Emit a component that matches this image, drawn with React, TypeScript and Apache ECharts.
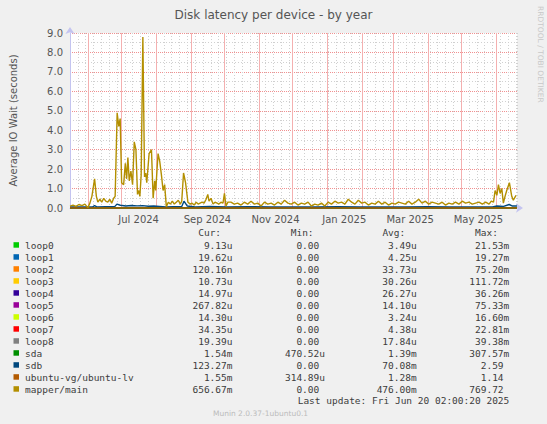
import React, { useEffect, useRef } from 'react';
import * as echarts from 'echarts';

// x values are days since the window start (Munin yearly graph = 400 days ending Jun 20 2025 02:00)
const windowStart = Date.UTC(2024, 4, 16, 2);

const monthStarts = [
  '2024-06-01', '2024-07-01', '2024-08-01', '2024-09-01', '2024-10-01', '2024-11-01', '2024-12-01',
  '2025-01-01', '2025-02-01', '2025-03-01', '2025-04-01', '2025-05-01', '2025-06-01',
];
const monthLabels = ['Jul 2024', 'Sep 2024', 'Nov 2024', 'Jan 2025', 'Mar 2025', 'May 2025'];
const labelMonthRanges = [
  ['2024-07-01', '2024-08-01'],
  ['2024-09-01', '2024-10-01'],
  ['2024-11-01', '2024-12-01'],
  ['2025-01-01', '2025-02-01'],
  ['2025-03-01', '2025-04-01'],
  ['2025-05-01', '2025-06-01'],
];
const yTicks = [0, 1, 2, 3, 4, 5, 6, 7, 8, 9];

const deviceNames = [
  'loop0', 'loop1', 'loop2', 'loop3', 'loop4', 'loop5', 'loop6', 'loop7', 'loop8',
  'sda', 'sdb', 'ubuntu-vg/ubuntu-lv', 'mapper/main',
];
const deviceColors = [
  '#00cc00', '#0066b3', '#ff8000', '#ffcc00', '#330099', '#990099', '#ccff00', '#ff0000', '#808080',
  '#008f00', '#00487d', '#b35a00', '#b38f00',
];
const curValues = ['9.13u', '19.62u', '120.16n', '10.73u', '14.97u', '267.82u', '14.30u', '34.35u', '19.39u', '1.54m', '123.27m', '1.55m', '656.67m'];
const minValues = ['0.00', '0.00', '0.00', '0.00', '0.00', '0.00', '0.00', '0.00', '0.00', '470.52u', '0.00', '314.89u', '0.00'];
const avgValues = ['3.49u', '4.25u', '33.73u', '30.26u', '26.27u', '14.10u', '3.24u', '4.38u', '17.84u', '1.39m', '70.08m', '1.28m', '476.00m'];
const maxValues = ['21.53m', '19.27m', '75.20m', '111.72m', '36.26m', '75.33m', '16.60m', '22.81m', '39.38m', '307.57m', '2.59', '1.14', '769.72'];

// near-zero devices, coarse samples
const smallDays = [0, 50, 100, 150, 200, 250, 300, 350, 400];
const loop0Wait = [0.000003, 0.000004, 0.000003, 0.000002, 0.000004, 0.000003, 0.000004, 0.000003, 0.000009];
const loop1Wait = [0.000004, 0.000005, 0.000004, 0.000003, 0.000004, 0.000005, 0.000004, 0.000004, 0.00002];
const loop2Wait = [0.00003, 0.00004, 0.00003, 0.00003, 0.00004, 0.00003, 0.00003, 0.00004, 0.0000001];
const loop3Wait = [0.00003, 0.00003, 0.00002, 0.00003, 0.00004, 0.00003, 0.00003, 0.00003, 0.00001];
const loop4Wait = [0.00002, 0.00003, 0.00002, 0.00003, 0.00003, 0.00002, 0.00003, 0.00002, 0.000015];
const loop5Wait = [0.00001, 0.00002, 0.00001, 0.00001, 0.00002, 0.00001, 0.00001, 0.00002, 0.00027];
const loop6Wait = [0.000003, 0.000003, 0.000004, 0.000003, 0.000002, 0.000003, 0.000004, 0.000003, 0.000014];
const loop7Wait = [0.000004, 0.000005, 0.000004, 0.000004, 0.000005, 0.000004, 0.000004, 0.000005, 0.000034];
const loop8Wait = [0.00002, 0.00002, 0.00001, 0.00002, 0.00002, 0.00001, 0.00002, 0.00002, 0.000019];
const sdaWait = [0.0013, 0.0015, 0.0014, 0.0013, 0.0014, 0.0014, 0.0013, 0.0014, 0.0015];
const ubuntuLvWait = [0.0012, 0.0013, 0.0013, 0.0012, 0.0013, 0.0013, 0.0012, 0.0013, 0.0016];

// sdb: [day, seconds]
const sdbWait = [
  [0, 0.05], [10, 0.06], [20, 0.05], [22, 0.12], [24, 0.06], [32, 0.07], [40, 0.07], [42, 0.2], [45, 0.14],
  [50, 0.1], [55, 0.13], [60, 0.11], [65, 0.12], [70, 0.09], [75, 0.1], [80, 0.08], [86, 0.05], [92, 0.07],
  [100, 0.08], [102, 0.35], [105, 0.1], [112, 0.05], [125, 0.08], [140, 0.05], [160, 0.07], [180, 0.05],
  [200, 0.06], [220, 0.05], [240, 0.07], [260, 0.05], [280, 0.06], [300, 0.05], [320, 0.07], [340, 0.05],
  [360, 0.06], [378, 0.06], [382, 0.1], [388, 0.08], [393, 0.18], [396, 0.1], [400, 0.1],
];

// mapper/main: [day, seconds]
const mapperMainWait = [
  [0, 0.1], [2.7, 0.15], [5.3, 0.08], [8, 0.18], [10.7, 0.12], [13.3, 0.2], [16, 0.02], [17.8, 0.25],
  [19.6, 0.6], [22, 1.5], [23.6, 0.6], [24.9, 0.3], [26.7, 0.45], [28.4, 0.3], [30.2, 0.5], [32, 0.35],
  [33.8, 0.3], [35.6, 0.45], [37.3, 0.25], [39.1, 0.5], [40.4, 0.6], [42.2, 4.9], [43.6, 4.2], [44.9, 4.6],
  [46.2, 1.3], [48, 1.2], [49.5, 2.3], [50.7, 1.5], [51.8, 2.6], [53, 1.4], [54.5, 1.9], [56, 1.2],
  [57.5, 3.4], [59, 3.0], [60.4, 0.7], [61.6, 0.9], [62.5, 0.6], [63.7, 1.7], [65.2, 8.8], [66.7, 1.6],
  [67.8, 1.8], [68.7, 1.3], [70.8, 2.8], [72.9, 3.0], [74.4, 0.5], [75.8, 1.4], [76.7, 0.9], [78.8, 2.8],
  [80.3, 2.4], [81.8, 1.7], [83.3, 0.9], [84.7, 1.2], [86.2, 0.07], [88, 0.3], [89.8, 0.2], [91.6, 0.35],
  [93.3, 0.2], [95.1, 0.3], [96.9, 0.4], [98.7, 0.2], [100, 0.35], [101.6, 1.8], [103.4, 1.3], [105.5, 0.3],
  [107.6, 0.2], [109.3, 0.25], [111.1, 0.15], [112.9, 0.3], [114.7, 0.2], [116.4, 0.25], [118.2, 0.3],
  [120, 0.25], [121.8, 0.45], [123.3, 0.7], [124.4, 0.35], [126.2, 0.5], [128, 0.2], [129.8, 0.3],
  [131.6, 0.25], [133.3, 0.2], [135.1, 0.3], [136.9, 0.25], [138.2, 0.75], [139.6, 0.1], [141.3, 0.3],
  [144, 0.3], [147, 0.2], [150, 0.25], [153, 0.15], [156, 0.3], [159, 0.2], [162, 0.35], [165, 0.2],
  [168, 0.25], [171, 0.1], [174, 0.3], [177, 0.2], [180, 0.25], [183, 0.15], [186, 0.3], [189, 0.2],
  [192, 0.4], [195, 0.25], [198, 0.2], [201, 0.3], [204, 0.15], [207, 0.25], [210, 0.2], [213, 0.3],
  [216, 0.1], [219, 0.2], [222, 0.15], [225, 0.25], [228, 0.1], [231, 0.3], [234, 0.2], [237, 0.35],
  [240, 0.25], [243, 0.3], [246, 0.2], [249, 0.45], [252, 0.3], [255, 0.2], [258, 0.4], [261, 0.25],
  [264, 0.3], [267, 0.15], [270, 0.25], [273, 0.2], [276, 0.35], [279, 0.2], [282, 0.3], [285, 0.15],
  [288, 0.25], [291, 0.2], [294, 0.3], [297, 0.25], [300, 0.2], [303, 0.35], [306, 0.2], [309, 0.3],
  [312, 0.45], [315, 0.25], [318, 0.35], [321, 0.2], [324, 0.3], [327, 0.25], [330, 0.2], [333, 0.3],
  [336, 0.15], [339, 0.25], [342, 0.2], [345, 0.3], [348, 0.2], [351, 0.35], [354, 0.25], [357, 0.3],
  [360, 0.2], [363, 0.25], [366, 0.3], [369, 0.2], [372, 0.3], [375, 0.2], [377, 0.35], [379, 0.3],
  [380.4, 0.9], [382, 0.65], [383.4, 1.2], [384.9, 0.75], [386.4, 1.0], [387.8, 0.25], [389.3, 0.6],
  [390.8, 0.9], [393.2, 1.3], [395.3, 0.6], [396.7, 0.4], [399.1, 0.65],
];

const smallSeries = [loop0Wait, loop1Wait, loop2Wait, loop3Wait, loop4Wait, loop5Wait, loop6Wait, loop7Wait, loop8Wait, sdaWait];

const dayOf = (iso: string) => (Date.parse(iso + 'T00:00:00Z') - windowStart) / 86400000;

const App: React.FC = () => {
  const chartRef = useRef<HTMLDivElement>(null);

  useEffect(() => {
    if (!chartRef.current) return;
    const chart = echarts.init(chartRef.current, undefined, { renderer: 'svg' });

    const monthDays = monthStarts.map(dayOf);
    const labelDays = labelMonthRanges.map(([a, b]) => (dayOf(a) + dayOf(b)) / 2);

    const lineData: number[][][] = [];
    smallSeries.forEach((vals) => lineData.push(smallDays.map((d, i) => [d, vals[i]])));
    lineData.push(sdbWait);
    lineData.push(smallDays.map((d, i) => [d, ubuntuLvWait[i]]));
    lineData.push(mapperMainWait);

    const mono = '"DejaVu Sans Mono", monospace';
    const textColor = '#3c3c3c';
    const charW = 5.71;
    const rowTop = 245;
    const rowH = 12;
    const colRight = [232.5, 325, 416.7, 509.3];
    const cols = [curValues, minValues, avgValues, maxValues];
    const headers = ['Cur:', 'Min:', 'Avg:', 'Max:'];

    const txt = (text: string, x: number, y: number, align: string) => ({
      type: 'text',
      x,
      y,
      silent: true,
      style: {
        text,
        fill: textColor,
        fontSize: 9.5,
        fontFamily: mono,
        textAlign: align,
        align,
        textVerticalAlign: 'middle',
        verticalAlign: 'middle',
      },
    });

    const graphics: any[] = [];
    headers.forEach((h, c) => graphics.push(txt(h, colRight[c] - 2 * charW, 232.5, 'right')));
    deviceNames.forEach((name, i) => {
      const y = rowTop + i * rowH;
      graphics.push({ type: 'rect', shape: { x: 13.5, y: y - 2.8, width: 5.5, height: 5.5 }, style: { fill: deviceColors[i] } });
      graphics.push(txt(name, 25, y, 'left'));
      cols.forEach((col, c) => {
        const v = col[i];
        const hasUnit = /[a-z]$/i.test(v);
        graphics.push(txt(v, colRight[c] - (hasUnit ? 0 : charW), y, 'right'));
      });
    });
    graphics.push(txt('Last update: Fri Jun 20 02:00:20 2025', 509.3, 400.8, 'right'));
    graphics.push({
      type: 'text',
      x: 260.5,
      y: 413.5,
      silent: true,
      style: {
        text: 'Munin 2.0.37-1ubuntu0.1',
        fill: '#bbbbbb',
        fontSize: 7.5,
        fontFamily: '"DejaVu Sans", sans-serif',
        textAlign: 'center',
        align: 'center',
        textVerticalAlign: 'middle',
        verticalAlign: 'middle',
      },
    });
    graphics.push({
      type: 'text',
      x: 540,
      y: 6,
      rotation: -Math.PI / 2,
      silent: true,
      style: {
        text: 'RRDTOOL / TOBI OETIKER',
        fill: '#c8c8c8',
        fontSize: 7.5,
        fontFamily: '"DejaVu Sans", sans-serif',
        textAlign: 'left',
        align: 'left',
        textVerticalAlign: 'middle',
        verticalAlign: 'middle',
      },
    });

    const minorGrid = { color: '#d0d0d0', width: 1, type: [1, 2] };
    const majorGrid = { color: '#f09090', width: 1, type: [1, 1] };
    const axisColor = '#c4c4f0';
    const labelStyle = { color: '#555', fontSize: 10, fontFamily: '"DejaVu Sans", sans-serif' };

    // month boundaries, snapped to the pixel grid like the split lines
    const monthGridSeries = {
      type: 'custom',
      coordinateSystem: 'cartesian2d',
      silent: true,
      xAxisIndex: 0,
      yAxisIndex: 0,
      z: 2,
      clip: false,
      data: monthDays.map((d) => [d, 0]),
      encode: { x: 0, y: 1 },
      renderItem: (_params: any, api: any) => {
        const top = api.coord([api.value(0), yTicks[yTicks.length - 1]]);
        const bottom = api.coord([api.value(0), yTicks[0]]);
        const x = Math.round(top[0]) + 0.5;
        return {
          type: 'line',
          shape: { x1: x, y1: top[1], x2: x, y2: bottom[1] },
          style: { stroke: '#f4b0b0', lineWidth: 1 },
        };
      },
    };

    const option: any = {
      animation: false,
      backgroundColor: '#f0f0f0',
      title: {
        text: 'Disk latency per device - by year',
        left: 'center',
        top: 4,
        textStyle: { color: '#555', fontSize: 12, fontWeight: 'normal', fontFamily: '"DejaVu Sans", sans-serif' },
      },
      grid: {
        left: 67,
        right: 30,
        top: 33,
        bottom: 216,
        show: true,
        backgroundColor: '#ffffff',
        borderWidth: 0,
      },
      xAxis: [
        {
          type: 'value',
          min: 0,
          max: 400,
          interval: 7,
          axisLine: {
            show: true,
            onZero: false,
            lineStyle: { color: axisColor, width: 1 },
            symbol: ['none', 'arrow'],
            symbolSize: [7, 7],
            symbolOffset: [0, 6],
          },
          axisTick: { show: false },
          axisLabel: { show: false },
          splitLine: { show: true, lineStyle: minorGrid },
        },
        {
          type: 'value',
          min: 0,
          max: 400,
          position: 'bottom',
          axisLine: { show: false },
          axisTick: { show: false },
          axisLabel: {
            show: true,
            customValues: labelDays,
            margin: 6,
            ...labelStyle,
            formatter: (v: number) => {
              let best = 0;
              labelDays.forEach((d, i) => {
                if (Math.abs(d - v) < Math.abs(labelDays[best] - v)) best = i;
              });
              return monthLabels[best];
            },
          },
          splitLine: { show: false },
        },
      ],
      yAxis: {
        type: 'value',
        min: yTicks[0],
        max: yTicks[yTicks.length - 1],
        interval: 1,
        name: 'Average IO Wait (seconds)',
        nameLocation: 'middle',
        nameGap: 52,
        nameTextStyle: { ...labelStyle },
        axisLine: {
          show: true,
          lineStyle: { color: axisColor, width: 1 },
          symbol: ['none', 'arrow'],
          symbolSize: [7, 7],
          symbolOffset: [0, 6],
        },
        axisTick: { show: false },
        axisLabel: { ...labelStyle, margin: 7, formatter: (v: number) => v.toFixed(1) },
        splitLine: { show: true, lineStyle: majorGrid },
        minorTick: { show: false, splitNumber: 2 },
        minorSplitLine: { show: true, lineStyle: minorGrid },
      },
      series: [
        monthGridSeries,
        ...deviceNames.map((name, i) => ({
          name,
          type: 'line',
          xAxisIndex: 0,
          data: lineData[i],
          showSymbol: false,
          symbol: 'none',
          lineStyle: { color: deviceColors[i], width: 1.4 },
          itemStyle: { color: deviceColors[i] },
          silent: true,
          z: 3,
        })),
      ],
      graphic: graphics,
    };

    chart.setOption(option);

    return () => {
      chart.dispose();
    };
  }, []);

  return <div ref={chartRef} style={{ position: 'absolute', left: 0, top: 0, width: 547, height: 424 }} />;
};

export default App;
